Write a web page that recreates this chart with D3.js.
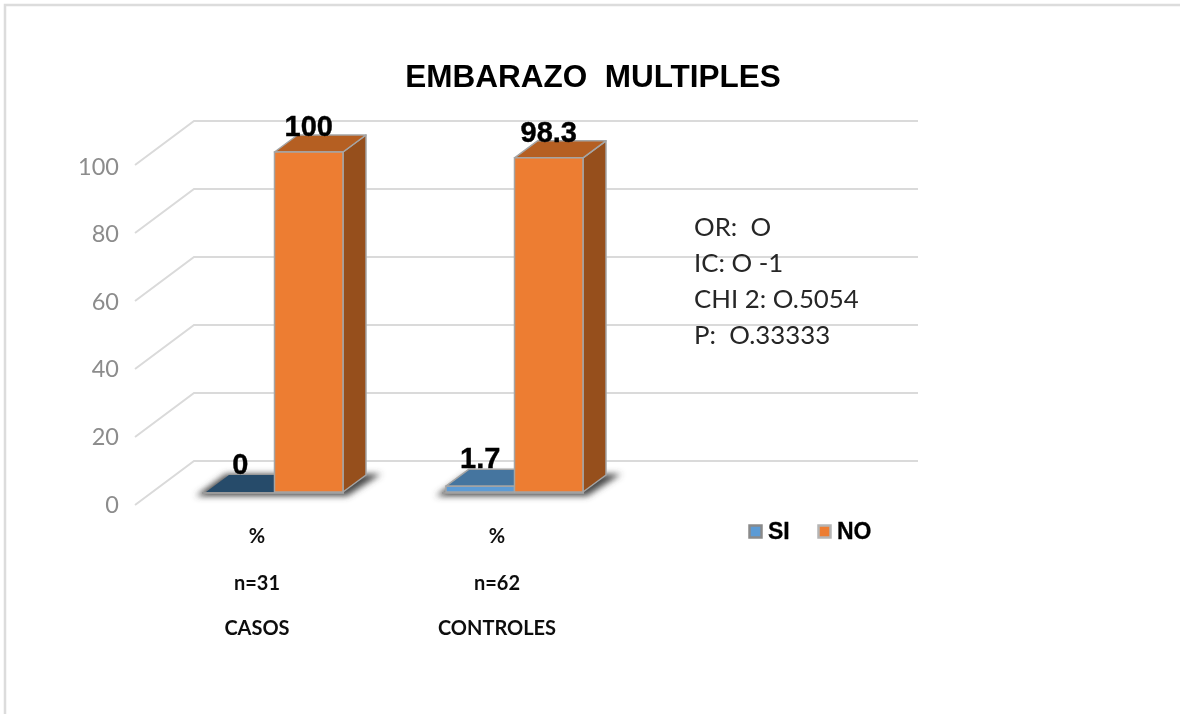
<!DOCTYPE html>
<html><head><meta charset="utf-8">
<script src="https://cdn.jsdelivr.net/npm/d3@7/dist/d3.min.js"></script>
<style>html,body{margin:0;padding:0;background:#fff}svg{display:block}text{white-space:pre}</style>
</head><body><div id="c"></div>
<script>
const titleText = "EMBARAZO  MULTIPLES";
const categories = ["CASOS","CONTROLES"];
const sampleSizes = ["n=31","n=62"];
const unitLabels = ["%","%"];
const seriesNames = ["SI","NO"];
const siValues = [0,1.7];
const noValues = [100,98.3];
const siLabels = ["0","1.7"];
const noLabels = ["100","98.3"];
const yTicks = [0,20,40,60,80,100];
const notes = ["OR:  O","IC: O -1","CHI 2: O.5054","P:  O.33333"];

const W=1180,H=714;
const svg=d3.select("#c").append("svg").attr("width",W).attr("height",H);
const defs=svg.append("defs");
defs.append("filter").attr("id","soft").attr("x","-2%").attr("y","-2%").attr("width","104%").attr("height","104%")
  .append("feGaussianBlur").attr("stdDeviation",0.45);
defs.append("filter").attr("id","shadow").attr("x","-30%").attr("y","-60%").attr("width","160%").attr("height","220%")
  .append("feGaussianBlur").attr("stdDeviation",3.2);

const root=svg.append("g").attr("filter","url(#soft)");
root.append("path").attr("d","M5 714V5H1180").attr("fill","none").attr("stroke","#dcdcdc").attr("stroke-width",2.5);

const y=d3.scaleLinear().domain([0,100]).range([492,152]);
const yLabel=d3.scaleLinear().domain([0,100]).range([512,174]);
const x0=d3.scaleBand().domain(categories).range([146,626]);
const x1=d3.scaleBand().domain(seriesNames).range([60,197]);
const depth={dx:23,dy:-17};
const cols={SI:{front:"#5b9bd5",side:"#335c80",top:"#44759f"},NO:{front:"#ed7d31",side:"#964f1c",top:"#b55f22"}};
const zeroTop="#274b6b";
const edge="#a5a5a5";

const gridG=root.append("g").attr("fill","none").attr("stroke","#dadada").attr("stroke-width",2);
yTicks.forEach(t=>{
  const yb=y(t)-31, yf=y(t)+13;
  gridG.append("path").attr("d",`M135 ${yf}L194 ${yb}H918`);
});
root.append("g").selectAll("text").data(yTicks).join("text")
  .attr("x",119).attr("y",d=>yLabel(d)+0.5).attr("text-anchor","end")
  .attr("font-family","Lato").attr("font-size",23.5).attr("fill","#8c8c8c").text(d=>d);

categories.forEach(c=>{
  const l=x0(c)+x1("SI"), r=x0(c)+x1("NO")+x1.bandwidth(), b=y(0);
  root.append("polygon").attr("filter","url(#shadow)").attr("fill","#4a4a4a")
    .attr("points",[[l-10,b+4],[r+4,b+4],[r+38,b-18],[l+20,b-18]].join(" "));
  root.append("line").attr("x1",l-4).attr("x2",r+1).attr("y1",b+1).attr("y2",b+1).attr("stroke","#9a9a9a").attr("stroke-width",2);
});

function bar(g,name,cat,val){
  const bx=x0(cat)+x1(name), w=x1.bandwidth(), t=y(val), b=y(0), c=cols[name];
  const {dx,dy}=depth;
  g.append("polygon").attr("fill",c.side).attr("stroke",edge).attr("stroke-width",1.5).attr("stroke-linejoin","round")
    .attr("points",[[bx+w,t],[bx+w+dx,t+dy],[bx+w+dx,b+dy],[bx+w,b]].join(" "));
  g.append("polygon").attr("fill",val===0?zeroTop:c.top).attr("stroke",val===0?"none":edge).attr("stroke-width",1.5).attr("stroke-linejoin","round")
    .attr("points",[[bx,t],[bx+dx,t+dy],[bx+w+dx,t+dy],[bx+w,t]].join(" "));
  if(val>0) g.append("rect").attr("x",bx).attr("y",t).attr("width",w).attr("height",b-t)
    .attr("fill",c.front).attr("stroke",edge).attr("stroke-width",1.5);
}
const barsG=root.append("g");
categories.forEach((c,i)=>{
  bar(barsG,"SI",c,siValues[i]);
  bar(barsG,"NO",c,noValues[i]);
});

const lab=root.append("g").attr("font-family","Liberation Sans").attr("font-weight","bold").attr("font-size",29).attr("text-anchor","middle").attr("fill","#000").attr("stroke","#000").attr("stroke-width",0.4);
categories.forEach((c,i)=>{
  lab.append("text").attr("x",x0(c)+x1("SI")+x1.bandwidth()/2).attr("y",y(siValues[i])-18).text(siLabels[i]);
  lab.append("text").attr("x",x0(c)+x1("NO")+x1.bandwidth()/2).attr("y",y(noValues[i])-16).text(noLabels[i]);
});

const labelX=d3.scaleOrdinal().domain(categories).range([257,497]);
const cat=root.append("g").attr("font-family","Lato").attr("font-weight","bold").attr("font-size",20).attr("text-anchor","middle").attr("fill","#111");
categories.forEach((c,i)=>{
  cat.append("text").attr("x",labelX(c)).attr("y",543).text(unitLabels[i]);
  cat.append("text").attr("x",labelX(c)).attr("y",590).text(sampleSizes[i]);
  cat.append("text").attr("x",labelX(c)).attr("y",635).text(c);
});

root.append("text").attr("x",593).attr("y",87).attr("text-anchor","middle")
  .attr("font-family","Liberation Sans").attr("font-weight","bold").attr("font-size",31.5).attr("fill","#000").text(titleText);

const noteY=d3.scalePoint().domain(notes).range([236,344]);
root.append("g").attr("font-family","Lato").attr("font-size",25.8).attr("fill","#262626")
  .selectAll("text").data(notes).join("text").attr("x",694).attr("y",d=>noteY(d)).text(d=>d);

const legX=d3.scaleOrdinal().domain(seriesNames).range([748,817]);
const leg=root.append("g");
seriesNames.forEach(n=>{
  leg.append("rect").attr("x",legX(n)+1.5).attr("y",525.5).attr("width",12).attr("height",12)
    .attr("fill",cols[n].front).attr("stroke",n==="SI"?"#8a8a8a":"#b5b5b5").attr("stroke-width",2.5);
  leg.append("text").attr("x",legX(n)+20).attr("y",539).attr("font-family","Liberation Sans").attr("font-weight","bold").attr("font-size",23).attr("fill","#000").attr("stroke","#000").attr("stroke-width",0.3).text(n);
});
</script></body></html>
